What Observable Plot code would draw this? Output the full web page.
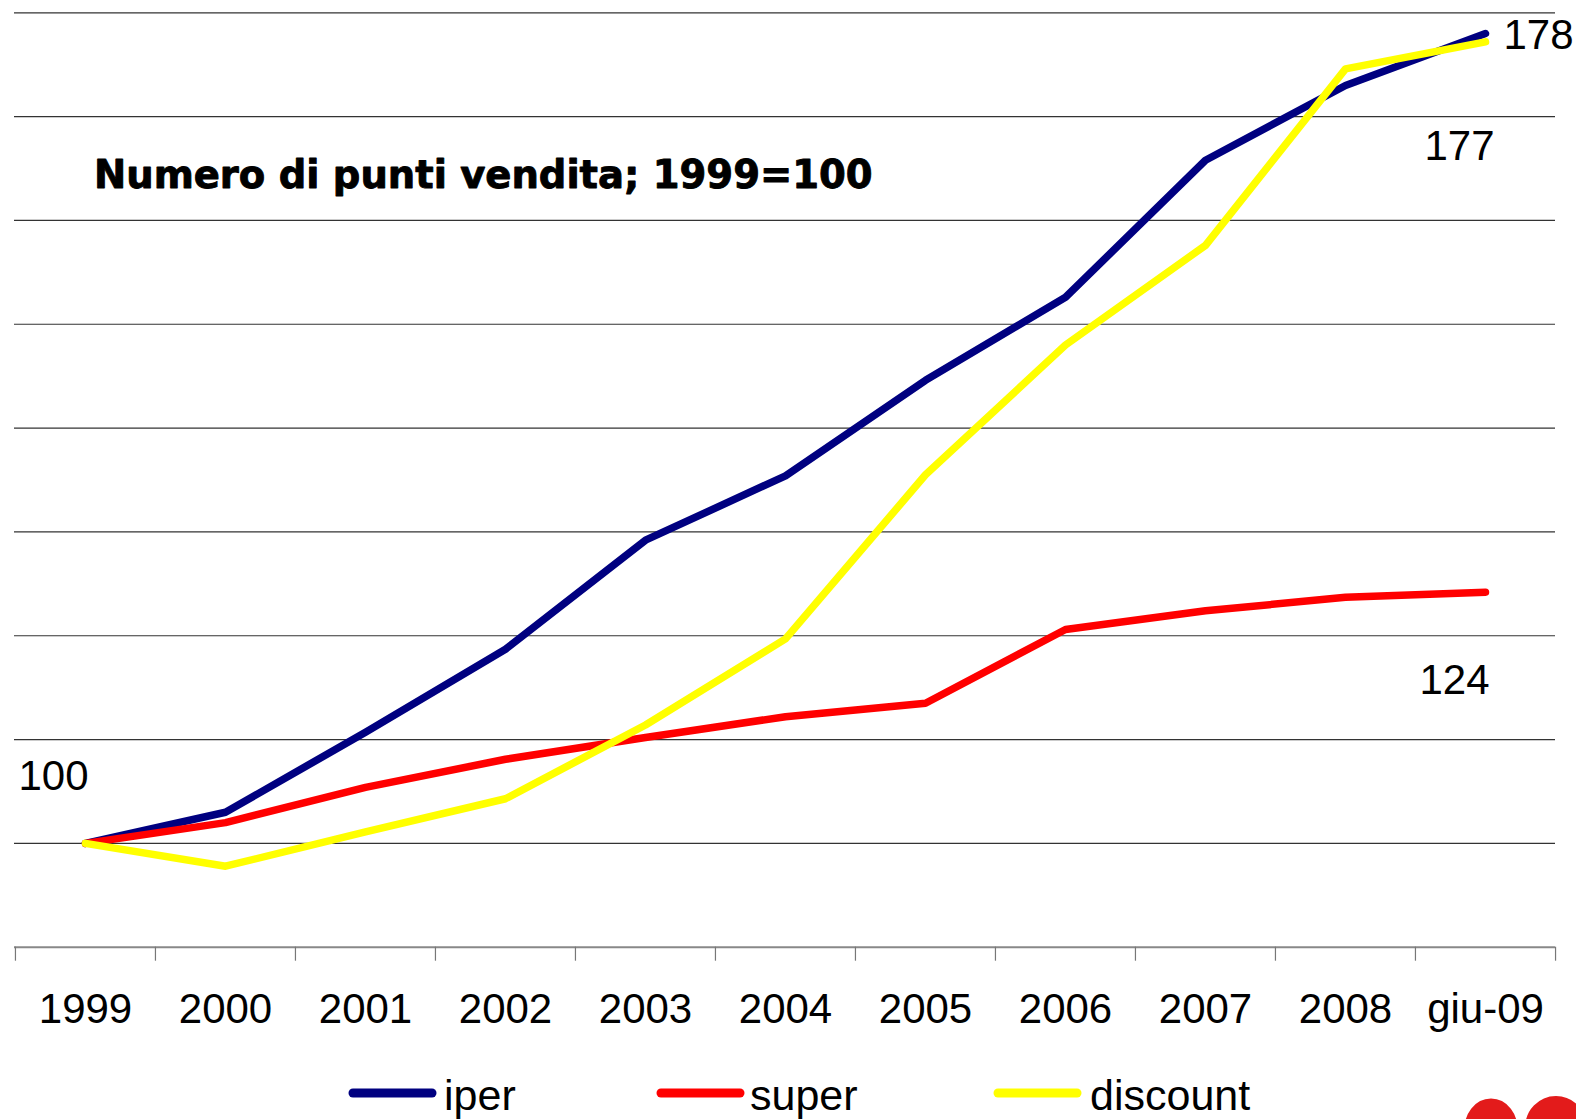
<!DOCTYPE html>
<html>
<head>
<meta charset="utf-8">
<script src="https://cdn.jsdelivr.net/npm/d3@7"></script>
<script src="https://cdn.jsdelivr.net/npm/@observablehq/plot@0.6"></script>
<style>
  html, body { margin: 0; padding: 0; overflow: hidden; background: #fff; width: 1576px; height: 1119px; }
  #wrap { position: relative; width: 1576px; height: 1119px; }
  .lg-sw { position: absolute; }
  .lg-tx { position: absolute; font-family: 'Liberation Sans', Arial, sans-serif; font-size: 43px; line-height: 43px; color: #000; white-space: nowrap; }
  #logo { position: absolute; left: 1440px; top: 1080px; }
</style>
</head>
<body>
<div id="wrap"></div>
<script>
// ---- data ----
const categories = ["1999","2000","2001","2002","2003","2004","2005","2006","2007","2008","giu-09"];
const seriesNames = ["iper","super","discount"];
const seriesColors = ["#000080","#FF0000","#FFFF00"];
const iper     = [100, 103.0, 110.7, 118.7, 129.2, 135.4, 144.6, 152.6, 165.8, 173.0, 178.0];
const superV   = [100, 102.0, 105.4, 108.1, 110.2, 112.2, 113.5, 120.6, 122.4, 123.7, 124.2];
const discount = [100,  97.8, 101.1, 104.3, 111.4, 119.7, 135.5, 148.0, 157.6, 174.6, 177.2];
const gridTicks = [100, 110, 120, 130, 140, 150, 160, 170, 180];
const yDomain = [90, 180];
const title = "Numero di punti vendita; 1999=100";

const valuesBySeries = {iper: iper, super: superV, discount: discount};
const rows = categories.flatMap((c, i) => seriesNames.map(s => ({series: s, cat: c, value: valuesBySeries[s][i]})));

const W = 1576, H = 1040, mL = 14, mR = 21, mT = 12.3, mB = 93.3;
const bw = (W - mL - mR) / categories.length;
const fmt = d => String(Math.round(d.value));
const pick = (s, c) => d => d.series === s && d.cat === c;

const chart = Plot.plot({
  width: W, height: H,
  marginLeft: mL, marginRight: mR, marginTop: mT, marginBottom: mB,
  style: {fontFamily: "'Liberation Sans', Arial, sans-serif", background: "white", overflow: "visible", color: "#000"},
  x: {type: "band", domain: categories, padding: 0, axis: null},
  y: {domain: yDomain, axis: null},
  color: {domain: seriesNames, range: seriesColors},
  marks: [
    Plot.ruleY(gridTicks, {stroke: "#333", strokeWidth: 1.2}),
    Plot.ruleY([yDomain[0]], {stroke: "#888", strokeWidth: 2}),
    Plot.axisX({tickSize: 14, tickFormat: null, label: null, dx: -bw / 2, stroke: "#777", strokeWidth: 1.2, strokeOpacity: 1}),
    Plot.axisX([categories[categories.length - 1]], {tickSize: 14, tickFormat: null, label: null, dx: bw / 2, stroke: "#777", strokeWidth: 1.2, strokeOpacity: 1}),
    Plot.axisX({tickSize: 0, tickPadding: 46, fontSize: 42, fill: "#000", label: null}),
    Plot.line(rows, {x: "cat", y: "value", z: "series", stroke: "series", strokeWidth: 7.5, strokeLinecap: "round", strokeLinejoin: "round"}),
    Plot.text(rows, {filter: pick("iper", "giu-09"), x: "cat", y: "value", text: fmt, textAnchor: "start", lineAnchor: "middle", dx: 18, dy: 2, fontSize: 42, fill: "#000"}),
    Plot.text(rows, {filter: pick("discount", "giu-09"), x: "cat", y: "value", text: fmt, textAnchor: "middle", lineAnchor: "middle", dx: -26, dy: 105, fontSize: 42, fill: "#000"}),
    Plot.text(rows, {filter: pick("super", "giu-09"), x: "cat", y: "value", text: fmt, textAnchor: "middle", lineAnchor: "middle", dx: -31, dy: 88, fontSize: 42, fill: "#000"}),
    Plot.text(rows, {filter: pick("iper", "1999"), x: "cat", y: "value", text: fmt, textAnchor: "middle", lineAnchor: "middle", dx: -32, dy: -67, fontSize: 42, fill: "#000"}),
    Plot.text([title], {frameAnchor: "top-left", textAnchor: "start", lineAnchor: "top", dx: 79.5, dy: 147.7, fontSize: 38.5, fontWeight: "bold", fontFamily: "'DejaVu Sans', Verdana, sans-serif", fill: "#000", stroke: "#000", strokeWidth: 0.9})
  ]
});

const wrap = document.getElementById("wrap");
chart.style.position = "absolute";
chart.style.left = "0px";
chart.style.top = "0px";
wrap.appendChild(chart);

// ---- legend (below the chart) ----
const legendSwatchX = [348, 656, 993];
const legendTextX = [444, 750, 1090];
seriesNames.forEach((s, i) => {
  const sw = document.createElementNS("http://www.w3.org/2000/svg", "svg");
  sw.setAttribute("class", "lg-sw");
  sw.setAttribute("width", "92");
  sw.setAttribute("height", "14");
  sw.style.left = legendSwatchX[i] + "px";
  sw.style.top = (1093 - 7) + "px";
  const ln = document.createElementNS("http://www.w3.org/2000/svg", "line");
  ln.setAttribute("x1", "5"); ln.setAttribute("x2", "84");
  ln.setAttribute("y1", "7"); ln.setAttribute("y2", "7");
  ln.setAttribute("stroke", seriesColors[i]);
  ln.setAttribute("stroke-width", "9");
  ln.setAttribute("stroke-linecap", "round");
  sw.appendChild(ln);
  wrap.appendChild(sw);
  const tx = document.createElement("div");
  tx.className = "lg-tx";
  tx.textContent = s;
  tx.style.left = legendTextX[i] + "px";
  tx.style.top = (1110 - 36.4) + "px";
  wrap.appendChild(tx);
});

// ---- partial red logo in the corner (decorative shapes) ----
const logo = document.createElementNS("http://www.w3.org/2000/svg", "svg");
logo.setAttribute("id", "logo");
logo.setAttribute("width", "136");
logo.setAttribute("height", "39");
logo.innerHTML = '<ellipse cx="51" cy="49" rx="13.5" ry="17.5" fill="none" stroke="#E31B1B" stroke-width="26"/>' +
                 '<ellipse cx="116" cy="48" rx="18" ry="19" fill="none" stroke="#E31B1B" stroke-width="26"/>';
wrap.appendChild(logo);
</script>
</body>
</html>
